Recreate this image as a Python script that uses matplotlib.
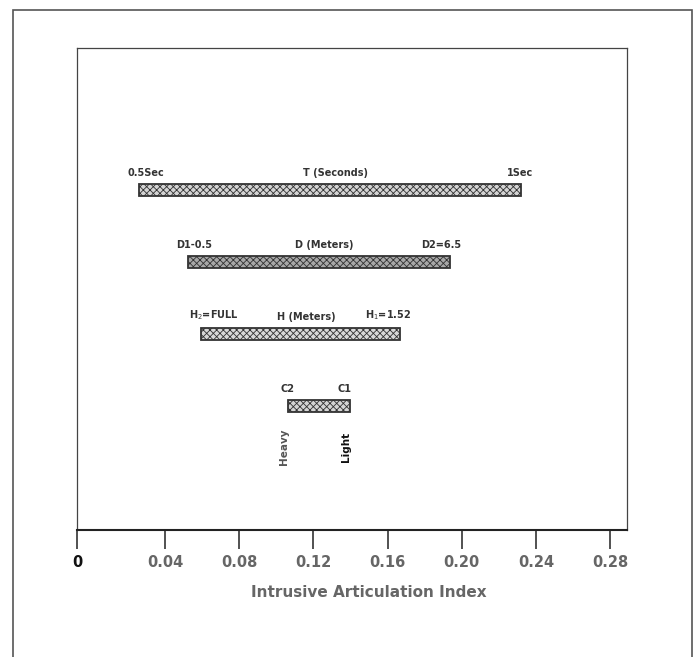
import matplotlib.pyplot as plt
from matplotlib.patches import Rectangle

plt.rcParams['font.family'] = ['DejaVu Sans']
plt.rcParams['hatch.linewidth'] = 0.6

# ranges of the intrusive articulation index for each parameter
factors = ['C', 'H', 'D', 'T']
lows = [0.106, 0.0595, 0.0524, 0.0259]
highs = [0.1395, 0.1665, 0.1935, 0.2319]
left_labels = ['C2', 'H$_2$=FULL', 'D1-0.5', '0.5Sec']
mid_labels = ['', 'H (Meters)', 'D (Meters)', 'T (Seconds)']
right_labels = ['C1', 'H$_1$=1.52', 'D2=6.5', '1Sec']
fills = ['#d4d4d4', '#d8d8d8', '#a8a8a8', '#d4d4d4']

tick_values = [0.04, 0.08, 0.12, 0.16, 0.20, 0.24, 0.28]
tick_labels = ['0.04', '0.08', '0.12', '0.16', '0.20', '0.24', '0.28']
x_start = -0.0076  # axis origin drawn as "0"

fig = plt.figure(figsize=(7, 6.57), dpi=100)
ax = fig.add_axes([77 / 700, 1 - 530 / 657, 550 / 700, 482 / 657])

# outer frame of the figure
fig.patches.append(Rectangle((13 / 700, -0.01), 679 / 700, 1 - 10 / 657 + 0.01,
                             transform=fig.transFigure, fill=False,
                             edgecolor='#555555', linewidth=1.2))

ypos = [1, 2, 3, 4]
for i, (y, lo, hi, fc) in enumerate(zip(ypos, lows, highs, fills)):
    ax.barh(y, hi - lo, left=lo, height=0.17, color=fc, edgecolor='#333333',
            hatch='xxxxx', linewidth=1.3)
    ty = y + 0.17
    pad = 0.004 if i == 0 else 0.0065
    ax.text(lo - pad, ty, left_labels[i], ha='left', va='bottom', fontsize=7,
            fontweight='bold', color='#333333')
    ax.text((lo + hi) / 2 + 0.003, ty, mid_labels[i], ha='center', va='bottom',
            fontsize=7, fontweight='bold', color='#333333')
    ax.text(hi + (0.001 if i == 0 else 0.0065), ty, right_labels[i], ha='right',
            va='bottom', fontsize=7, fontweight='bold', color='#333333')

# weight annotations under the C bar
ax.text(lows[0] - 0.002, 0.43, 'Heavy', rotation=90, ha='center', va='center',
        fontsize=7.5, fontweight='bold', color='#555555')
ax.text(highs[0] - 0.002, 0.43, 'Light', rotation=90, ha='center', va='center',
        fontsize=7.5, fontweight='bold', color='#111111')

ax.set_xlim(x_start, 0.2892)
ax.set_ylim(-0.72, 5.97)
ax.set_yticks([])
ax.set_xticks([x_start] + tick_values)
ax.set_xticklabels(['0'] + tick_labels)
ax.tick_params(axis='x', direction='out', length=14, width=1.2, colors='#333333',
               labelsize=10.5, pad=4)
for lbl in ax.get_xticklabels():
    lbl.set_fontweight('bold')
    lbl.set_color('#666666')
ax.get_xticklabels()[0].set_color('#111111')
for side in ['top', 'right', 'left']:
    ax.spines[side].set_color('#444444')
    ax.spines[side].set_linewidth(0.9)
ax.spines['bottom'].set_color('#222222')
ax.spines['bottom'].set_linewidth(1.5)

ax.set_xlabel('Intrusive Articulation Index', fontsize=11, fontweight='bold',
              color='#666666')
ax.xaxis.set_label_coords(0.53, -0.115)

fig.savefig('out.png', dpi=100)
